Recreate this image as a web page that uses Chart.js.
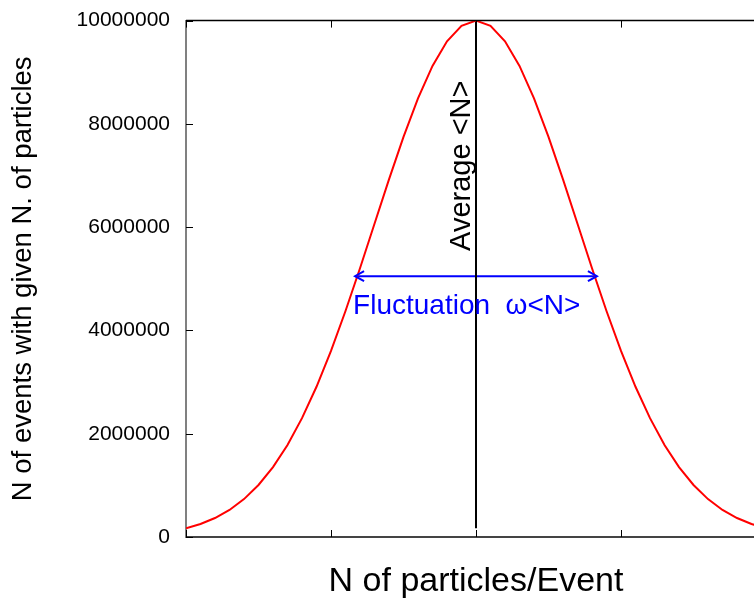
<!DOCTYPE html>
<html>
<head>
<meta charset="utf-8">
<script src="https://cdn.jsdelivr.net/npm/chart.js@4/dist/chart.umd.min.js"></script>
<style>
  html, body { margin: 0; padding: 0; overflow: hidden; background: #fff; }
  #wrap { width: 754px; height: 599px; overflow: hidden; }
</style>
</head>
<body>
<div id="wrap"><canvas id="chart" width="800" height="599"></canvas></div>
<script>
// values
const particles = [0, 0.1, 0.2, 0.3, 0.4, 0.5, 0.6, 0.7, 0.8, 0.9, 1.0,
  1.1, 1.2, 1.3, 1.4, 1.5, 1.6, 1.7, 1.8, 1.9, 2.0,
  2.1, 2.2, 2.3, 2.4, 2.5, 2.6, 2.7, 2.8, 2.9, 3.0,
  3.1, 3.2, 3.3, 3.4, 3.5, 3.6, 3.7, 3.8, 3.9, 4.0];
const events = [169000, 251000, 367000, 524000, 734000, 1007000, 1353000, 1783000, 2301000, 2909000, 3604000,
  4376000, 5204000, 6065000, 6926000, 7748000, 8494000, 9123000, 9600000, 9898000, 10000000,
  9898000, 9600000, 9123000, 8494000, 7748000, 6926000, 6065000, 5204000, 4376000, 3604000,
  2909000, 2301000, 1783000, 1353000, 1007000, 734000, 524000, 367000, 251000, 169000];
const averageX = [2, 2];
const averageY = [10000000, 170000];
const fluctX = [1.166, 2.834];
const fluctY = [5050000, 5050000];
const yTickStep = 1000000;

const FONT = "'Liberation Sans', Arial, Helvetica, sans-serif";

const toPoints = (xs, ys) => xs.map((x, i) => ({ x: x, y: ys[i] }));

// inside tick marks, top frame line, arrow heads and the two labels
const annotate = {
  id: "annotate",
  afterDraw(chart) {
    const ctx = chart.ctx;
    const xs = chart.scales.x;
    const ys = chart.scales.y;
    const area = chart.chartArea;

    ctx.save();
    // top frame
    ctx.strokeStyle = "#000";
    ctx.lineWidth = 1.5;
    ctx.beginPath();
    ctx.moveTo(area.left, area.top);
    ctx.lineTo(area.right, area.top);
    ctx.stroke();

    // ticks
    ctx.lineWidth = 1;
    ctx.strokeStyle = "#000";
    ys.ticks.forEach((t) => {
      const y = Math.round(ys.getPixelForValue(t.value)) + 0.5;
      ctx.beginPath();
      ctx.moveTo(area.left, y);
      ctx.lineTo(area.left + 7, y);
      ctx.stroke();
    });
    xs.ticks.forEach((t) => {
      const x = Math.round(xs.getPixelForValue(t.value)) + 0.5;
      ctx.beginPath();
      ctx.moveTo(x, area.bottom);
      ctx.lineTo(x, area.bottom - 7);
      ctx.moveTo(x, area.top);
      ctx.lineTo(x, area.top + 7);
      ctx.stroke();
    });

    // arrow heads on the fluctuation line
    const ay = ys.getPixelForValue(fluctY[0]);
    const ax1 = xs.getPixelForValue(fluctX[0]);
    const ax2 = xs.getPixelForValue(fluctX[1]);
    ctx.strokeStyle = "#0000ff";
    ctx.lineWidth = 2;
    ctx.beginPath();
    ctx.moveTo(ax1 + 9, ay - 5);
    ctx.lineTo(ax1, ay);
    ctx.lineTo(ax1 + 9, ay + 5);
    ctx.moveTo(ax2 - 9, ay - 5);
    ctx.lineTo(ax2, ay);
    ctx.lineTo(ax2 - 9, ay + 5);
    ctx.stroke();

    // labels
    ctx.fillStyle = "#0000ff";
    ctx.font = "28px " + FONT;
    ctx.textAlign = "left";
    ctx.textBaseline = "alphabetic";
    ctx.fillText("Fluctuation  \u03c9<N>", ax1 - 2, ay + 38);

    const lx = xs.getPixelForValue(averageX[0]);
    ctx.fillStyle = "#000";
    ctx.font = "29px " + FONT;
    ctx.translate(lx - 6, ys.getPixelForValue(5540000));
    ctx.rotate(-Math.PI / 2);
    ctx.fillText("Average <N>", 0, 0);
    ctx.restore();
  },
};

const ctx = document.getElementById("chart").getContext("2d");
new Chart(ctx, {
  type: "line",
  data: {
    datasets: [
      {
        data: toPoints(particles, events),
        borderColor: "#ff0000",
        borderWidth: 2,
        pointRadius: 0,
        tension: 0,
      },
      {
        data: toPoints(averageX, averageY),
        borderColor: "#000000",
        borderWidth: 2,
        pointRadius: 0,
      },
      {
        data: toPoints(fluctX, fluctY),
        borderColor: "#0000ff",
        borderWidth: 2,
        pointRadius: 0,
      },
    ],
  },
  options: {
    responsive: false,
    animation: false,
    layout: { padding: { top: 10, right: 34, left: 0, bottom: 0 } },
    plugins: { legend: { display: false }, tooltip: { enabled: false } },
    scales: {
      x: {
        type: "linear",
        min: 0,
        max: 4,
        ticks: { display: false, stepSize: 1 },
        grid: { display: false },
        border: { display: true, color: "#444", width: 2 },
        title: {
          display: true,
          text: "N of particles/Event",
          color: "#000",
          font: { family: FONT, size: 34, lineHeight: 1 },
          padding: 0,
        },
        afterFit: (scale) => { scale.height = 62; },
      },
      y: {
        type: "linear",
        min: 0,
        max: 10000000,
        ticks: {
          stepSize: yTickStep,
          color: "#000",
          padding: 8,
          font: { family: FONT, size: 21 },
          callback: (v) => (v % 2000000 === 0 ? String(v) : null),
        },
        grid: { display: false },
        border: { display: true, color: "#808080", width: 2 },
        title: {
          display: true,
          text: "N of events with given N. of particles",
          color: "#000",
          font: { family: FONT, size: 27.5, lineHeight: 1.2 },
          padding: { top: 7, bottom: 0 },
        },
        afterFit: (scale) => { scale.width = 186; },
      },
    },
  },
  plugins: [annotate],
});
</script>
</body>
</html>
